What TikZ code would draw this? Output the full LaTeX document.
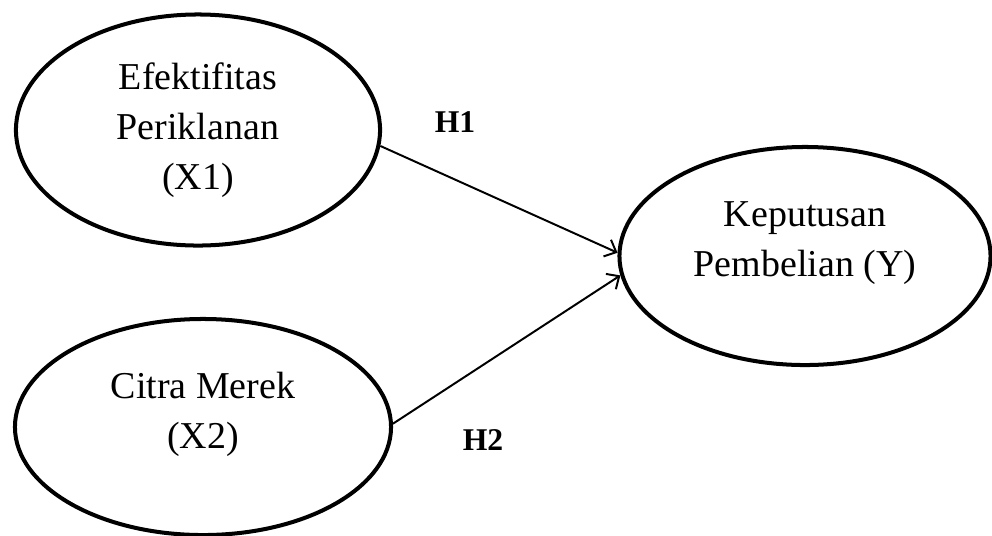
\documentclass[tikz,border=0pt]{standalone}
\usepackage{fontspec}
\setmainfont{Liberation Serif}
\usetikzlibrary{shapes.geometric,arrows.meta}

\begin{document}
\begin{tikzpicture}[x=.025cm, y=-.025cm,
    every node/.style={
        font=\fontsize{27}{35.5}\selectfont,
        align=center,
        inner sep=0pt},
    variabel/.style={
        draw,
        ellipse,
        line width=2.85pt},
    hipotesis/.style={
        font=\fontsize{22.5}{26}\selectfont\bfseries},
    panah/.style={
        line width=1.4pt,
        -{Straight Barb[length=7pt,width=13pt,line width=1.4pt]}}]

    \useasboundingbox (0,0) rectangle (992,535);

    \node[variabel, minimum width=9.1cm, minimum height=5.775cm] (X1) at (198,130) {Efektifitas\\Periklanan\\(X1)};
    \node[variabel, minimum width=9.4cm, minimum height=5.4cm, text depth=24pt] (X2) at (203,427) {Citra Merek\\(X2)};
    \node[variabel, minimum width=9.275cm, minimum height=5.45cm, text depth=24pt] (Y) at (805,256) {Keputusan\\Pembelian (Y)};

    \draw[panah] (X1.-5) -- (Y.179);
    \draw[panah] (X2.1) -- (Y.186);

    \node[hipotesis] (H1) at (455,122) {H1};
    \node[hipotesis] (H2) at (483,440) {H2};
\end{tikzpicture}
\end{document}
